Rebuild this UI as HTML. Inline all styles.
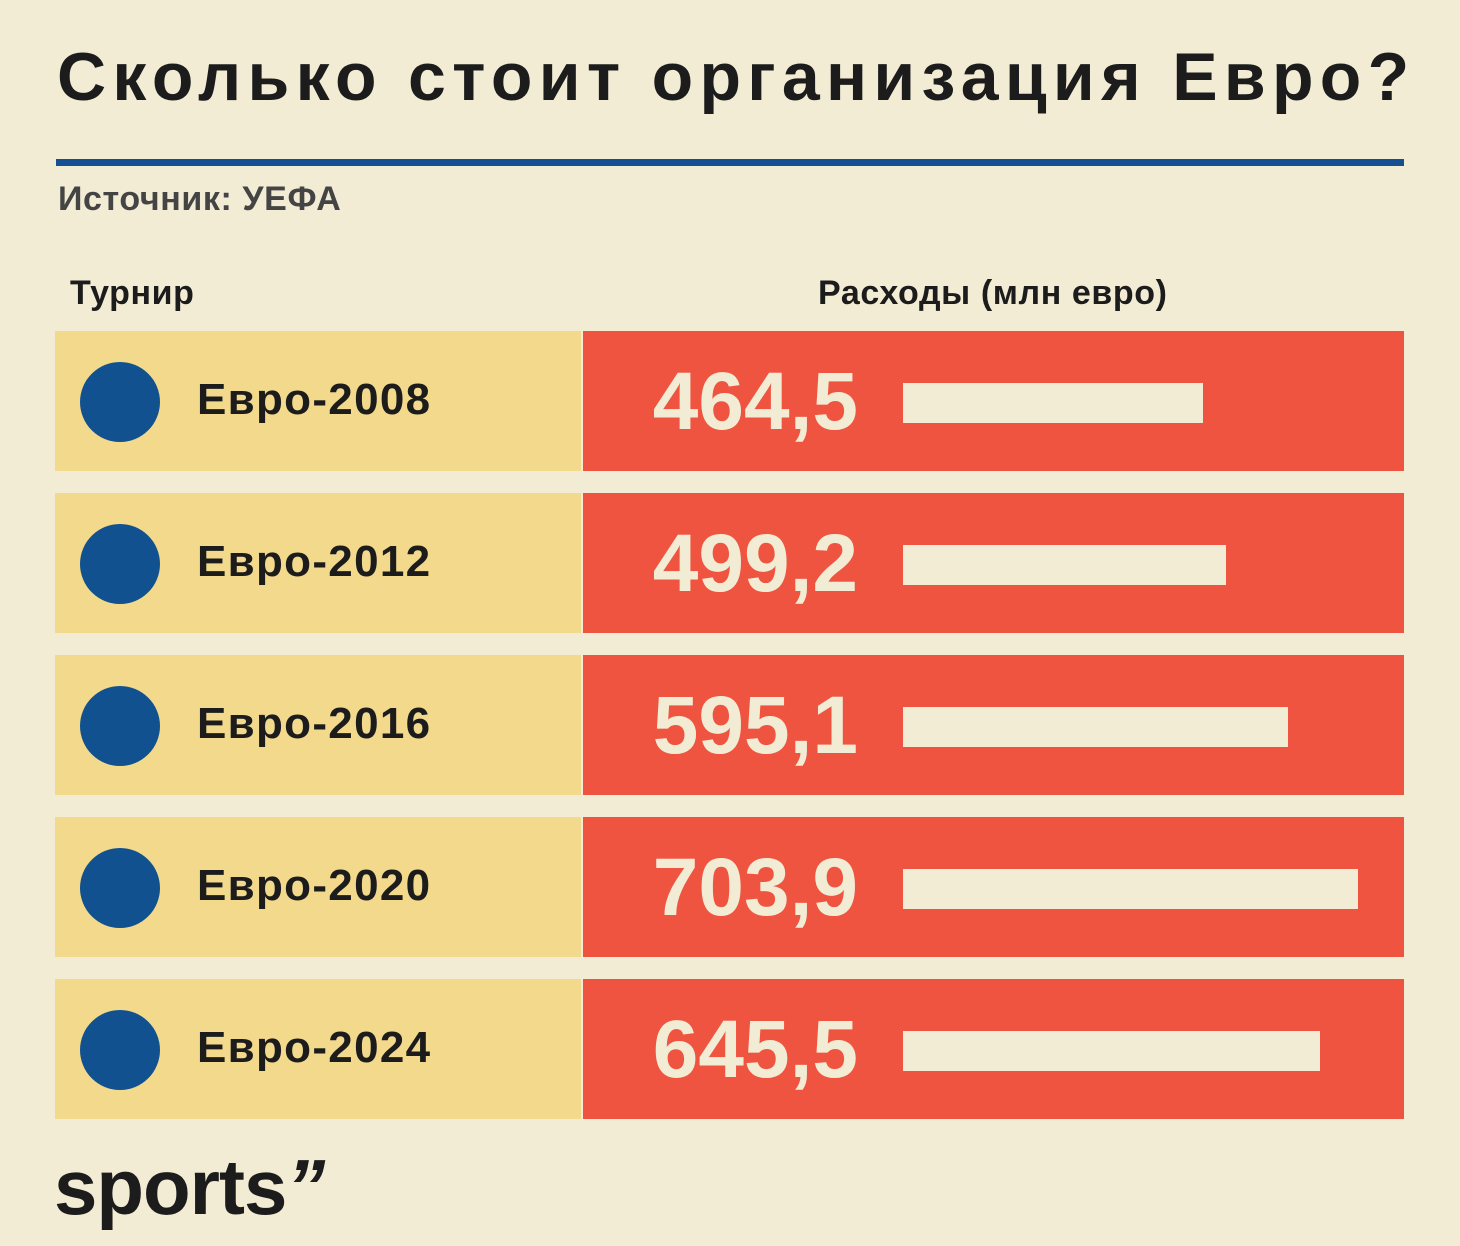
<!DOCTYPE html>
<html><head><meta charset="utf-8"><style>
html,body{margin:0;padding:0}
body{width:1460px;height:1246px;background:#f3ecd5;position:relative;overflow:hidden;font-family:"Liberation Sans","DejaVu Sans",sans-serif;color:#1c1c1c}
.abs{position:absolute}
#title{left:57px;top:38px;font-size:68px;font-weight:bold;letter-spacing:6.3px;white-space:nowrap}
#rule{left:56px;top:159px;width:1348px;height:7px;background:#174f93}
#src{left:58px;top:180px;font-size:34px;color:#444;font-weight:bold;letter-spacing:0.6px}
.hdr{top:274px;font-size:34px;font-weight:bold;letter-spacing:0.6px}
</style></head><body>
<div class="abs" id="title">Сколько стоит организация Евро?</div>
<div class="abs" id="rule"></div>
<div class="abs" id="src">Источник: УЕФА</div>
<div class="abs hdr" style="left:70px">Турнир</div>
<div class="abs hdr" style="left:818px;letter-spacing:0.6px">Расходы (млн евро)</div>
<div id="rows"></div>
<div class="abs" style="left:54px;top:1142px;font-size:78px;font-weight:bold;letter-spacing:-1px">sports<span style="font-style:italic">”</span></div>
<script>
const categories=["Евро-2008","Евро-2012","Евро-2016","Евро-2020","Евро-2024"];
const values=[464.5,499.2,595.1,703.9,645.5];
const labels=["464,5","499,2","595,1","703,9","645,5"];
const x0=903, pxPerUnit=(1358-903)/703.9;
function xScale(v){return v*pxPerUnit;}
const wrap=document.getElementById('rows');
categories.forEach((c,i)=>{
  const top=331+i*162;
  const row=document.createElement('div');
  
  
  row.className='abs';
  row.style.cssText=`left:0;top:${top}px;width:1460px;height:140px`;
  row.innerHTML=`<div class="abs" style="left:55px;top:0;width:526px;height:140px;background:#f2d98c"></div>
  <div class="abs" style="left:583px;top:0;width:821px;height:140px;background:#ef5441"></div>
  <div class="abs" style="left:80px;top:31px;width:80px;height:80px;border-radius:50%;background:#11518f"></div>
  <div class="abs lab" style="left:197px;top:44px;font-size:44px;font-weight:bold;letter-spacing:1.3px;white-space:nowrap">${c}</div>
  <div class="abs val" style="left:558px;width:300px;text-align:right;top:24px;font-size:82px;font-weight:bold;color:#f3ecd5;letter-spacing:0px">${labels[i]}</div>
  <div class="abs bar" style="left:${x0}px;top:52px;height:40px;width:${xScale(values[i])}px;background:#f3ecd5"></div>`;
  row.querySelector('.lab');
  row.querySelector('.lab');
  row.querySelector('.val');
  row.querySelector('.val');
  row.querySelector('.bar');
  row.querySelector('.bar');
  wrap.appendChild(row);
});
</script>
</body></html>
